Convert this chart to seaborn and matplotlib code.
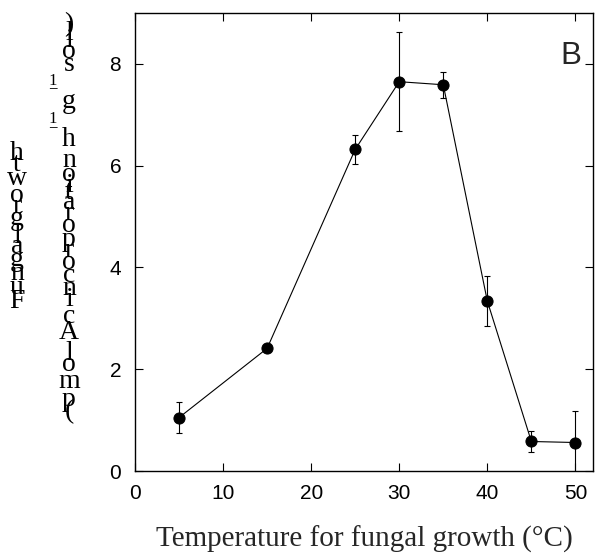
import matplotlib
matplotlib.use("Agg")
import matplotlib.pyplot as plt
import seaborn as sns
import pandas as pd
from matplotlib.font_manager import FontProperties
from matplotlib.textpath import TextToPath

# data
temperature = [5, 15, 25, 30, 35, 40, 45, 50]
growth = [1.05, 2.41, 6.32, 7.65, 7.59, 3.34, 0.58, 0.56]
growth_err = [0.30, 0.07, 0.29, 0.97, 0.26, 0.50, 0.21, 0.62]

x_ticks = [0, 10, 20, 30, 40, 50]
y_ticks = [0, 2, 4, 6, 8]

x_label = "Temperature for fungal growth (°C)"
y_label_line1 = [("Fungal growth", "n")]
y_label_line2 = [("(pmol Ac incorporation h", "n"), ("\u22121", "s"),
                 (" g", "n"), ("\u22121", "s"), (" soil)", "n")]
panel_label = "B"

df = pd.DataFrame({"temperature": temperature, "growth": growth})

sns.set_style("ticks")
plt.rcParams["font.family"] = ["Liberation Sans", "DejaVu Sans"]

DPI = 100
fig = plt.figure(figsize=(5.99, 5.58), dpi=DPI)
ax = fig.add_axes([0.2254, 0.1559, 0.7646, 0.8208])

sns.lineplot(data=df, x="temperature", y="growth", ax=ax, color="black",
             linewidth=0.8, marker="o", markersize=8, markeredgecolor="black",
             errorbar=None)
ax.errorbar(temperature, growth, yerr=growth_err, fmt="none", ecolor="black",
            elinewidth=0.8, capsize=2.2, capthick=0.8)

ax.set_xlim(0, 52)
ax.set_ylim(0, 9)
ax.set_xticks(x_ticks)
ax.set_yticks(y_ticks)
ax.tick_params(direction="in", length=5.5, width=0.8, top=True, right=True,
               labelsize=15, colors="black")
ax.tick_params(axis="x", pad=9)
ax.tick_params(axis="y", pad=10)
for s in ax.spines.values():
    s.set_visible(True)
    s.set_linewidth(1.0)
    s.set_color("black")

ax.set_xlabel(x_label, family="Liberation Serif", fontsize=21, labelpad=17)
ax.set_ylabel("")
ax.text(0.975, 0.907, panel_label, transform=ax.transAxes, fontsize=22.5,
        ha="right", va="center")

# stacked (upright glyph) y label as in the reference
ttp = TextToPath()
serif_n = FontProperties(family="Liberation Serif", size=20)
serif_s = FontProperties(family="Liberation Serif", size=12)


def adv(text, fp):
    w0 = ttp.get_text_width_height_descent("|", fp, ismath=False)[0]
    w1 = ttp.get_text_width_height_descent(text + "|", fp, ismath=False)[0]
    return (w1 - w0) * DPI / 72.0


def stacked_label(parts, x_px, y_center_px, x_sup_px):
    glyphs = []
    pos = 0.0
    for text, kind in parts:
        fp = serif_n if kind == "n" else serif_s
        for ch in text:
            w = adv(ch, fp)
            glyphs.append((ch, kind, pos + w / 2))
            pos += w
    total = pos
    W, H = fig.get_size_inches() * DPI
    for ch, kind, p in glyphs:
        if ch == " ":
            continue
        y = y_center_px - (p - total / 2)
        x = x_px if kind == "n" else x_sup_px
        fp = serif_n if kind == "n" else serif_s
        fig.text(x / W, 1 - y / H, ch, fontproperties=fp,
                 ha="center", va="center", color="black")


stacked_label(y_label_line1, 17, 228, 5)
stacked_label(y_label_line2, 69, 218, 53)

fig.savefig("out.png", dpi=DPI)
